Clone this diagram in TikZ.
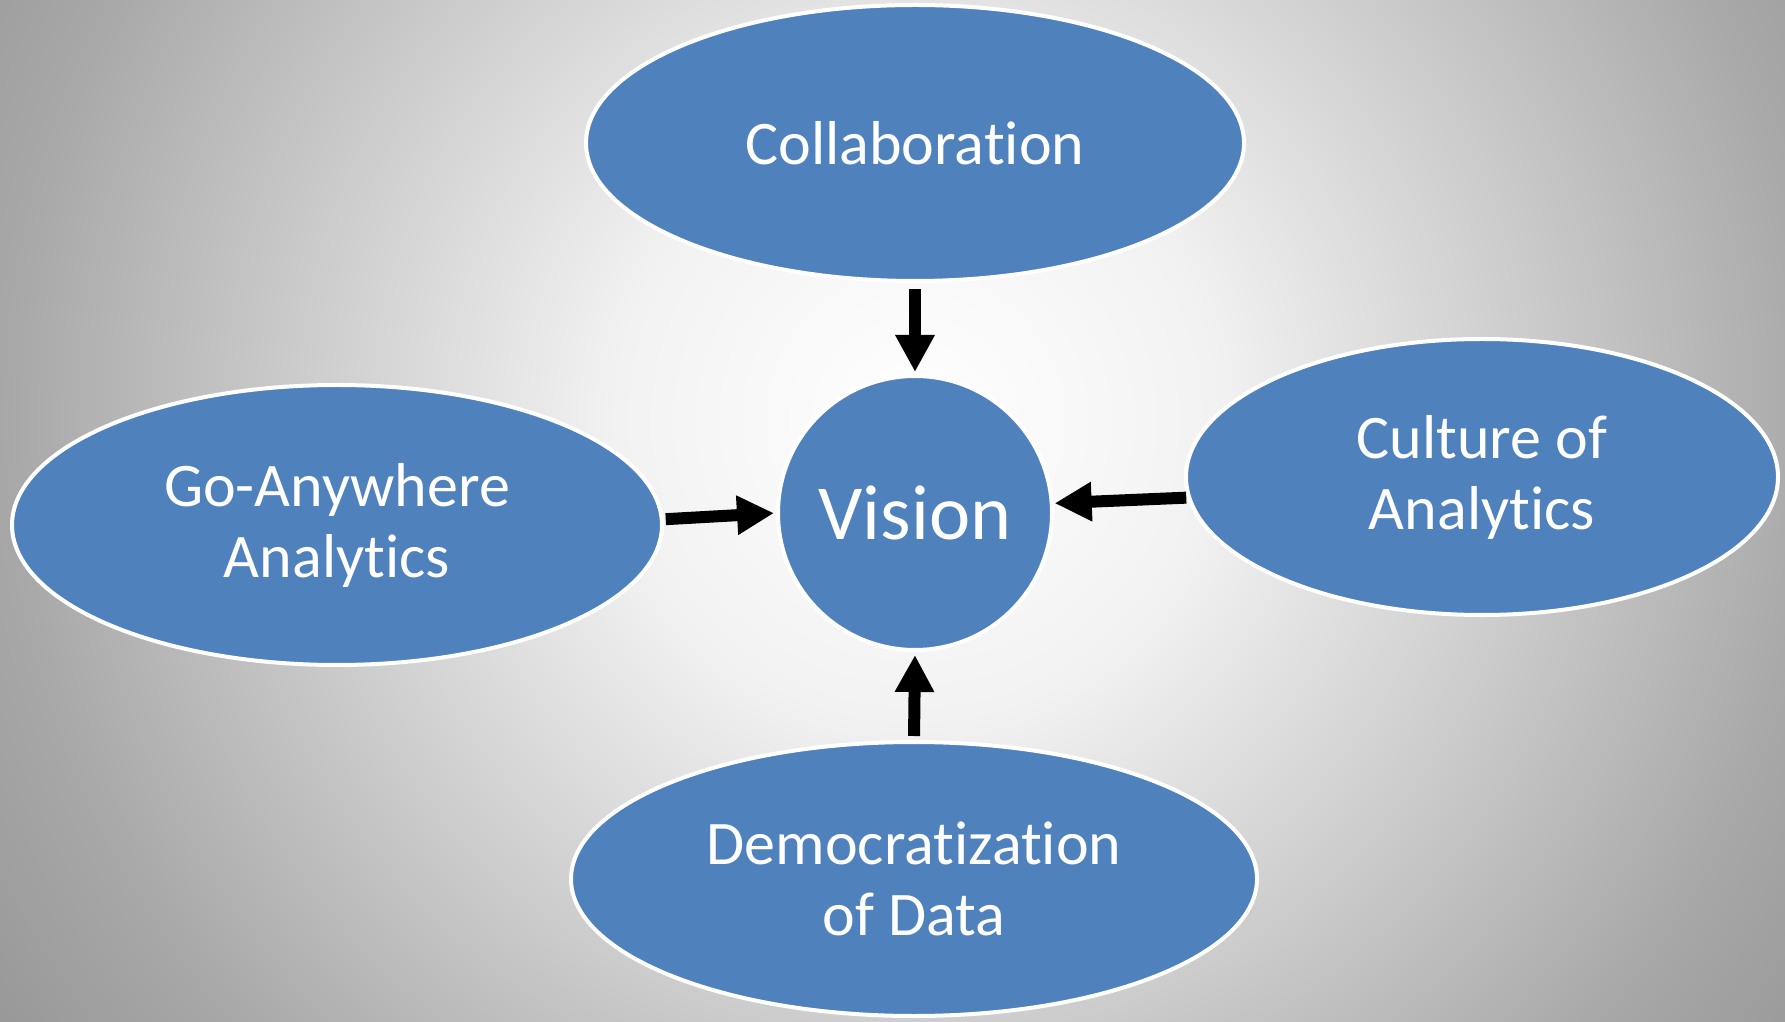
\documentclass[tikz,border=0pt]{standalone}
\usepackage{fontspec}
\setmainfont{Carlito}[Ligatures={NoCommon}]
\usetikzlibrary{arrows.meta,shapes.geometric}
\definecolor{nodeblue}{RGB}{79,129,189}
\definecolor{bgA}{RGB}{242,242,242}
\definecolor{bgB}{RGB}{206,206,206}
\definecolor{bgC}{RGB}{167,167,167}
\definecolor{bgD}{RGB}{152,152,152}
\pgfdeclareradialshading{bgshade}{\pgfpoint{0bp}{0bp}}{color(0bp)=(white); color(6.8bp)=(bgA); color(13.6bp)=(bgB); color(20.8bp)=(bgC); color(25bp)=(bgD); color(50bp)=(bgD)}
\tikzset{
  bubble/.style={ellipse, fill=nodeblue, draw=white, line width=4pt, inner sep=0pt,
    text=white, align=center, font=\fontsize{62}{71}\selectfont},
  hub/.style={circle, fill=nodeblue, draw=white, line width=4pt, inner sep=0pt,
    text=white, minimum size=274pt, font=\fontsize{78}{90}\selectfont},
  feed/.style={line width=12pt, draw=black, -{Triangle[length=37pt,width=37pt]}}
}
\begin{document}
\begin{tikzpicture}[x=1pt,y=1pt]
\useasboundingbox (0,0) rectangle (1785,1021);
\begin{scope}
\clip (0,0) rectangle (1785,1021);
\shade[shading=bgshade] (915,601) circle[radius=1100];
\end{scope}
\node[bubble, minimum width=658pt, minimum height=276pt] (collab) at (915,878) {Collaboration};
\node[bubble, minimum width=650pt, minimum height=280pt] (go) at (337,496) {Go-Anywhere\\Analytics};
\node[bubble, minimum width=592pt, minimum height=276pt] (cult) at (1482,544) {Culture of\\Analytics};
\node[bubble, minimum width=686pt, minimum height=274pt] (demo) at (914,142) {Democratization\\of Data};
\node[hub] (vision) at (915,508) {Vision};
\draw[feed, shorten <=6pt, shorten >=2pt] (collab.south) -- (vision.north);
\draw[feed, shorten <=2pt, shorten >=2pt] (go.1.2) -- (vision.180.8);
\draw[feed, shorten <=1pt, shorten >=1pt] (cult.184) -- (vision.4);
\draw[feed, shorten <=4pt, shorten >=3pt] (demo.north) -- (vision.south);
\end{tikzpicture}
\end{document}
